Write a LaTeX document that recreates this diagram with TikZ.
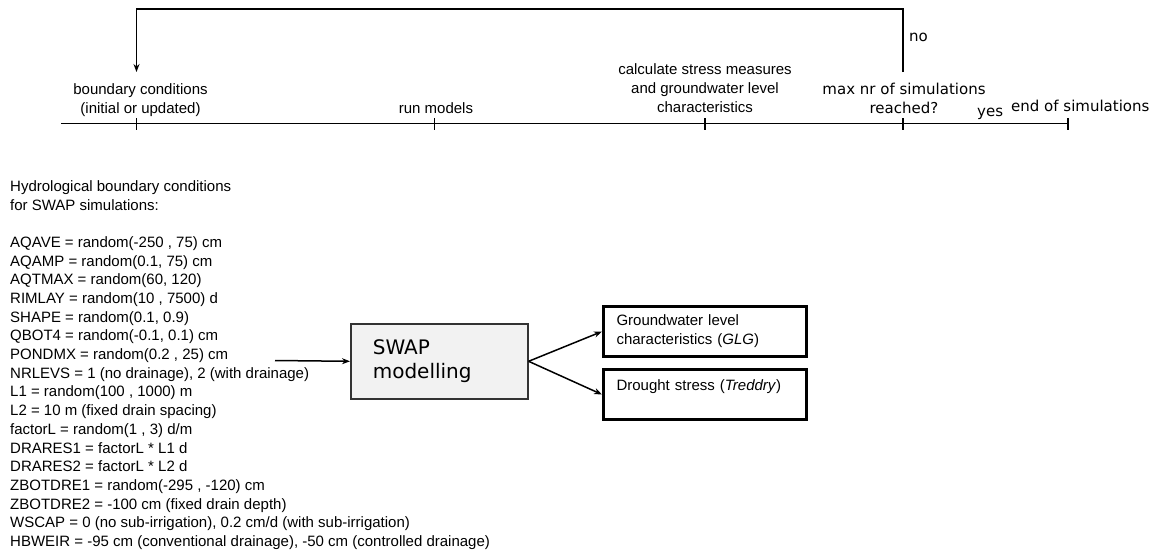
\documentclass[tikz,border=0pt]{standalone}
\usepackage{fontspec}
\setmainfont{Liberation Sans}
\newfontfamily\dvfont{DejaVu Sans}
\usepackage{xcolor}
\usepackage{tikz}
\usetikzlibrary{arrows, arrows.meta, positioning}
\definecolor{boxgray}{rgb}{0.95, 0.95, 0.95}
\definecolor{edgegray}{rgb}{0.2, 0.2, 0.2}
\tikzstyle{lbl} = [inner sep=0pt, align=center, anchor=base, font=\fontsize{15}{18.7}\selectfont]
\tikzstyle{lbldv} = [inner sep=0pt, align=center, anchor=base, font=\fontsize{15}{18.7}\selectfont\dvfont]
\tikzstyle{tick} = [line width=1.7pt]
\tikzstyle{swapbox} = [draw=edgegray, fill=boxgray, line width=1.6pt, anchor=north west, minimum width=177pt, minimum height=75pt, text width=133pt, inner xsep=22pt, align=left, font=\fontsize{20}{24.3}\selectfont\dvfont]
\tikzstyle{outbox} = [draw=black, line width=3pt, anchor=north west, minimum width=203pt, minimum height=50pt, text width=177pt, inner xsep=13pt, align=left, font=\fontsize{15}{19}\selectfont]
\tikzstyle{arrow} = [line width=1.5pt,->,>={Stealth[length=8pt,width=6pt]}]

\begin{document}
\begin{tikzpicture}[x=1pt, y=-1pt]
    \useasboundingbox (0,0) rectangle (1156,554);
    % time line
    \coordinate (axStart) at (61,123.5);
    \coordinate (tBound) at (136.5,123.5);
    \coordinate (tRun) at (434.5,123.5);
    \coordinate (tCalc) at (705,123.5);
    \coordinate (tMax) at (903,123.5);
    \coordinate (tEnd) at (1068,123.5);
    \draw[tick] (axStart) -- (tEnd);
    \foreach \t in {tBound, tRun, tCalc, tMax, tEnd}
        \draw[tick] ([yshift=-6pt]\t) -- ([yshift=6pt]\t);
    % loop back
    \coordinate (noStart) at (903,72);
    \coordinate (loopTop) at (519,9);
    \coordinate (bcIn) at (136.5,72);
    \draw[arrow] (noStart) |- (loopTop) -| (bcIn);
    \node[lbldv, anchor=base west] (no) at (909,41) {no};
    % labels on the time line
    \node[lbl] (lBound) at (140.5,113) {boundary conditions\\(initial or updated)};
    \node[lbl] (lRun) at (436,113) {run models};
    \node[lbl] (lCalc) at (705,112.3) {calculate stress measures\\and groundwater level\\characteristics};
    \node[lbldv] (lMax) at (904,113) {max nr of simulations\\reached?};
    \node[lbldv, anchor=base west] (yes) at (977,116.7) {yes};
    \node[lbldv, anchor=base west] (lEnd) at (1011,111.7) {end of simulations};
    % boundary conditions list
    \node[inner sep=0pt, anchor=base west, align=left, font=\fontsize{15}{18.69}\selectfont] (bcList) at (10,546.5) {%
        Hydrological boundary conditions\\
        for SWAP simulations:\\
        \mbox{}\\
        AQAVE = random(-250 , 75) cm\\
        AQAMP = random(0.1, 75) cm\\
        AQTMAX = random(60, 120)\\
        RIMLAY = random(10 , 7500) d\\
        SHAPE = random(0.1, 0.9)\\
        QBOT4 = random(-0.1, 0.1) cm\\
        PONDMX = random(0.2 , 25) cm\\
        NRLEVS = 1 (no drainage), 2 (with drainage)\\
        L1 = random(100 , 1000) m\\
        L2 = 10 m (fixed drain spacing)\\
        factorL = random(1 , 3) d/m\\
        DRARES1 = factorL * L1 d\\
        DRARES2 = factorL * L2 d\\
        ZBOTDRE1 = random(-295 , -120) cm\\
        ZBOTDRE2 = -100 cm (fixed drain depth)\\
        WSCAP = 0 (no sub-irrigation), 0.2 cm/d (with sub-irrigation)\\
        HBWEIR = -95 cm (conventional drainage), -50 cm (controlled drainage)};
    % model and outputs
    \node[swapbox] (swap) at (350,323) {SWAP\\modelling};
    \coordinate (bcOut) at (275,360.5);
    \draw[arrow] (bcOut) -- (swap.west);
    \node[outbox] (glg) at (602,305) {Groundwater level\\characteristics (\textit{GLG})};
    \node[outbox] (drought) at (602,368) {Drought stress (\textit{Treddry})\\\mbox{}};
    \draw[arrow] (swap.east) -- (glg.west);
    \draw[arrow] (swap.east) -- (drought.west);
\end{tikzpicture}
\end{document}
